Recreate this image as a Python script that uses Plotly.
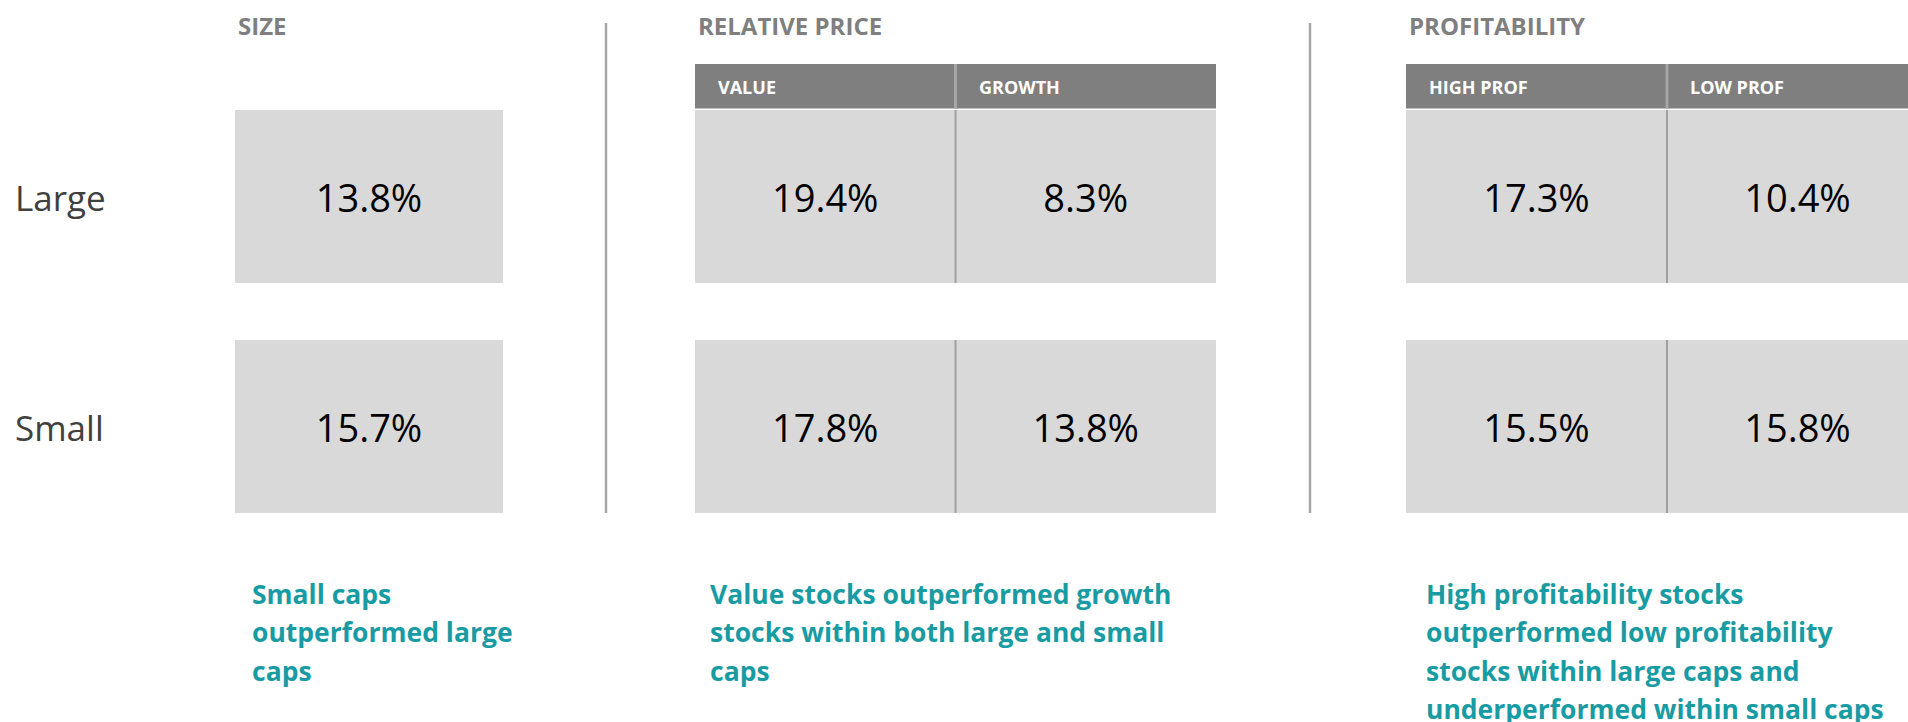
import plotly.graph_objects as go

# ---------------- data ----------------
section_titles = ["SIZE", "RELATIVE PRICE", "PROFITABILITY"]
row_labels = ["Large", "Small"]

size_columns = [""]
size_values = [[13.8], [15.7]]

price_columns = ["VALUE", "GROWTH"]
price_values = [[19.4, 8.3], [17.8, 13.8]]

prof_columns = ["HIGH PROF", "LOW PROF"]
prof_values = [[17.3, 10.4], [15.5, 15.8]]

notes = [
    ["Small caps", "outperformed large", "caps"],
    ["Value stocks outperformed growth", "stocks within both large and small", "caps"],
    ["High profitability stocks", "outperformed low profitability",
     "stocks within large caps and", "underperformed within small caps"],
]

# ---------------- layout / style ----------------
W, H = 1908, 722
FONT = "Open Sans"
CELL_FILL = "#d9d9d9"
HEAD_FILL = "#7f7f7f"
TITLE_COLOR = "#7f7f7f"
DIVIDER = "#a6a6a6"
TEAL = "#189ba2"

sections = [
    dict(title=section_titles[0], cols=size_columns, vals=size_values, left=235, colw=268, header=False, note_x=250),
    dict(title=section_titles[1], cols=price_columns, vals=price_values, left=695, colw=260.5, header=True, note_x=708),
    dict(title=section_titles[2], cols=prof_columns, vals=prof_values, left=1406, colw=261, header=True, note_x=1424),
]
row_tops = [110, 340]
row_h = 173
value_dy = 6
head_top, head_bot = 64, 108.6
title_y = 25
section_dividers = [606, 1310]
divider_top, divider_bot = 23, 513
note_y0, note_dy = 593.5, 38.5

fig = go.Figure()
shapes = []
annotations = []

vx, vy, vt = [], [], []

for s in sections:
    ncol = len(s["cols"])
    left = s["left"]
    right = left + ncol * s["colw"]
    # section title
    annotations.append(dict(x=left + 1, y=title_y, text=f"<b>{s['title']}</b>", showarrow=False,
                            xanchor="left", yanchor="middle",
                            font=dict(family=FONT, size=24, color=TITLE_COLOR)))
    # header band
    if s["header"]:
        shapes.append(dict(type="rect", x0=left, x1=right, y0=head_top, y1=head_bot,
                           fillcolor=HEAD_FILL, line=dict(width=0), layer="below"))
        for j, c in enumerate(s["cols"]):
            annotations.append(dict(x=left + j * s["colw"] + 21, y=(head_top + head_bot) / 2 + 0.5,
                                    text=f"<b>{c}</b>", showarrow=False, xanchor="left", yanchor="middle",
                                    font=dict(family=FONT, size=18, color="white")))
        for j in range(1, ncol):
            xd = left + j * s["colw"]
            shapes.append(dict(type="line", x0=xd, x1=xd, y0=head_top, y1=head_bot,
                               line=dict(color=DIVIDER, width=3)))
    # cells
    for i, top in enumerate(row_tops):
        shapes.append(dict(type="rect", x0=left, x1=right, y0=top, y1=top + row_h,
                           fillcolor=CELL_FILL, line=dict(width=0), layer="below"))
        for j in range(1, ncol):
            xd = left + j * s["colw"]
            shapes.append(dict(type="line", x0=xd, x1=xd, y0=top, y1=top + row_h,
                               line=dict(color="#a0a0a0", width=2)))
        for j in range(ncol):
            vx.append(left + (j + 0.5) * s["colw"])
            vy.append(top + row_h / 2 + value_dy)
            vt.append(f"{s['vals'][i][j]:.1f}%")

# values
fig.add_trace(go.Scatter(x=vx, y=vy, text=vt, mode="text", textposition="middle center",
                         textfont=dict(family=FONT, size=38, color="#000000"),
                         hoverinfo="skip", showlegend=False))

# row labels
for i, lab in enumerate(row_labels):
    annotations.append(dict(x=13, y=row_tops[i] + row_h / 2 + 1, text=lab, showarrow=False,
                            xanchor="left", yanchor="middle",
                            font=dict(family=FONT, size=35, color="#404040")))

# section dividers
for xd in section_dividers:
    shapes.append(dict(type="line", x0=xd, x1=xd, y0=divider_top, y1=divider_bot,
                       line=dict(color=DIVIDER, width=2.5)))

# notes
for s, lines in zip(sections, notes):
    for k, line in enumerate(lines):
        annotations.append(dict(x=s["note_x"], y=note_y0 + k * note_dy,
                                text=f"<b>{line}</b>", showarrow=False, xanchor="left", yanchor="middle",
                                font=dict(family=FONT, size=26.5, color=TEAL)))

fig.update_layout(
    width=W, height=H,
    margin=dict(l=0, r=0, t=0, b=0),
    paper_bgcolor="white", plot_bgcolor="white",
    xaxis=dict(range=[0, W], visible=False, fixedrange=True),
    yaxis=dict(range=[H, 0], visible=False, fixedrange=True),
    shapes=shapes, annotations=annotations,
    showlegend=False,
)

fig.write_html("out.html", config={"displayModeBar": False},
               post_script="document.body.style.margin='0px';document.body.style.overflow='hidden';")
